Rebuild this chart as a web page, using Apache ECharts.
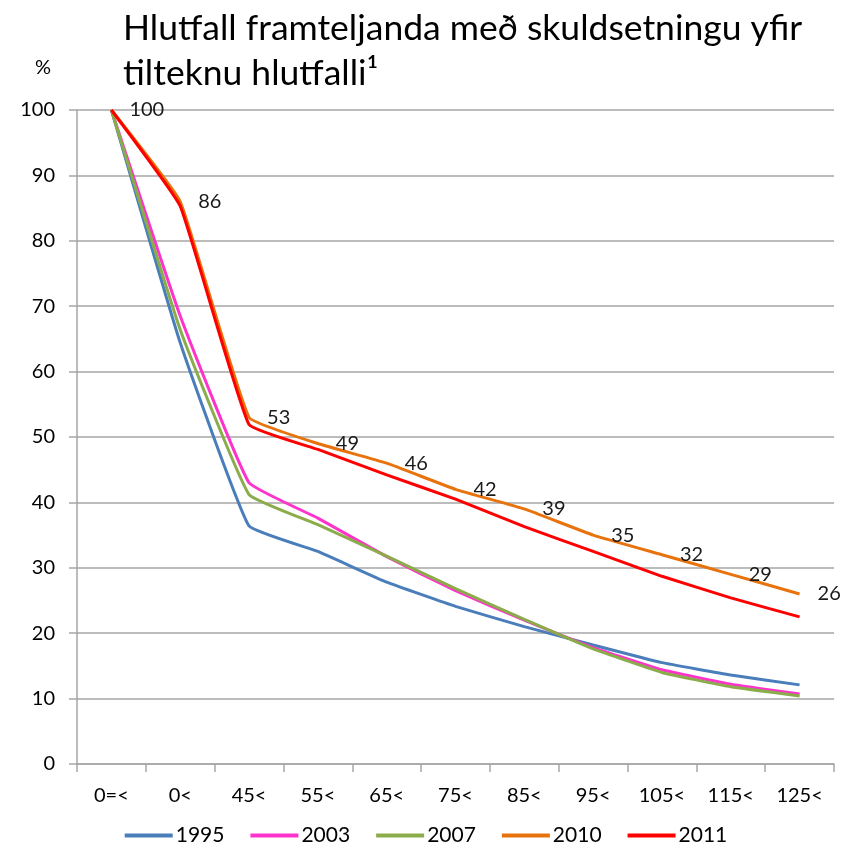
<!DOCTYPE html>
<html>
<head>
<meta charset="utf-8">
<script src="https://cdn.jsdelivr.net/npm/echarts@6/dist/echarts.min.js"></script>
<style>
  html, body { margin: 0; padding: 0; background: #fff; }
  #chart { width: 852px; height: 848px; }
</style>
</head>
<body>
<div id="chart"></div>
<script>
// flokkar (skuldsetning %)
var categories = ['0=<', '0<', '45<', '55<', '65<', '75<', '85<', '95<', '105<', '115<', '125<']
var years = ['1995', '2003', '2007', '2010', '2011']

var data1995 = [100, 64.4, 36.4, 32.5, 27.8, 24.1, 21.0, 18.2, 15.5, 13.6, 12.1]
var data2003 = [100, 68.5, 43.0, 37.6, 31.7, 26.5, 22.0, 17.8, 14.4, 12.2, 10.7]
var data2007 = [100, 66.4, 41.2, 36.6, 31.8, 26.8, 22.1, 17.6, 14.0, 11.8, 10.4]
var data2010 = [100, 86, 53, 49, 46, 42, 39, 35, 32, 29, 26]
var data2011 = [100, 85.3, 51.9, 48.1, 44.2, 40.5, 36.3, 32.5, 28.7, 25.4, 22.5]

var yTicks = [0, 100, 10]

var colors = ['#4a7ebb', '#ff33cc', '#8bac4a', '#e8730c', '#ff0000']
var font = 'Lato, "Open Sans", sans-serif'

var chart = echarts.init(document.getElementById('chart'))

function makeSeries(name, values, color, withLabels) {
  var s = {
    name: name,
    type: 'line',
    data: values,
    smooth: 0.1,
    symbol: 'circle',
    symbolSize: 0,
    showSymbol: withLabels,
    lineStyle: { width: 3, color: color },
    itemStyle: { color: color },
    z: 2
  }
  if (withLabels) {
    s.label = {
      show: true,
      position: 'right',
      distance: 18,
      offset: [0, 2],
      color: '#1a1a1a',
      fontSize: 20,
      fontFamily: font
    }
    s.labelLayout = { hideOverlap: false }
  }
  return s
}

var option = {
  animation: false,
  color: colors,
  title: {
    text: 'Hlutfall framteljanda með skuldsetningu yfir\ntilteknu hlutfalli¹',
    left: 118,
    top: 1,
    textStyle: {
      fontFamily: font,
      fontWeight: 'normal',
      fontSize: 35.5,
      lineHeight: 45,
      color: '#000'
    }
  },
  grid: { left: 77, right: 18, top: 110, bottom: 84 },
  legend: {
    bottom: -3,
    left: 'center',
    icon: 'rect',
    itemWidth: 48,
    itemHeight: 4,
    itemGap: 26,
    textStyle: { fontFamily: font, fontSize: 21, color: '#000', padding: [0, 0, 0, -2] },
    data: years
  },
  xAxis: {
    type: 'category',
    data: categories,
    boundaryGap: true,
    axisLine: { lineStyle: { color: '#a6a6a6', width: 1.5 } },
    axisTick: { show: true, length: 8, lineStyle: { color: '#a6a6a6', width: 1.5 } },
    axisLabel: { margin: 22, fontFamily: font, fontSize: 20, color: '#000' }
  },
  yAxis: {
    type: 'value',
    name: '%',
    nameLocation: 'end',
    nameGap: 32,
    nameTextStyle: { fontFamily: font, fontSize: 20, color: '#000', align: 'right', padding: [0, 26, 0, 0] },
    min: yTicks[0],
    max: yTicks[1],
    interval: yTicks[2],
    axisLine: { show: true, lineStyle: { color: '#a6a6a6', width: 1.5 } },
    axisTick: { show: true, length: 8, lineStyle: { color: '#a6a6a6', width: 1.5 } },
    splitLine: { lineStyle: { color: '#a6a6a6', width: 1.5 } },
    axisLabel: { margin: 22, fontFamily: font, fontSize: 20, color: '#000' }
  },
  series: [
    makeSeries('1995', data1995, colors[0], false),
    makeSeries('2003', data2003, colors[1], false),
    makeSeries('2007', data2007, colors[2], false),
    makeSeries('2010', data2010, colors[3], true),
    makeSeries('2011', data2011, colors[4], false)
  ]
}

chart.setOption(option)
</script>
</body>
</html>
